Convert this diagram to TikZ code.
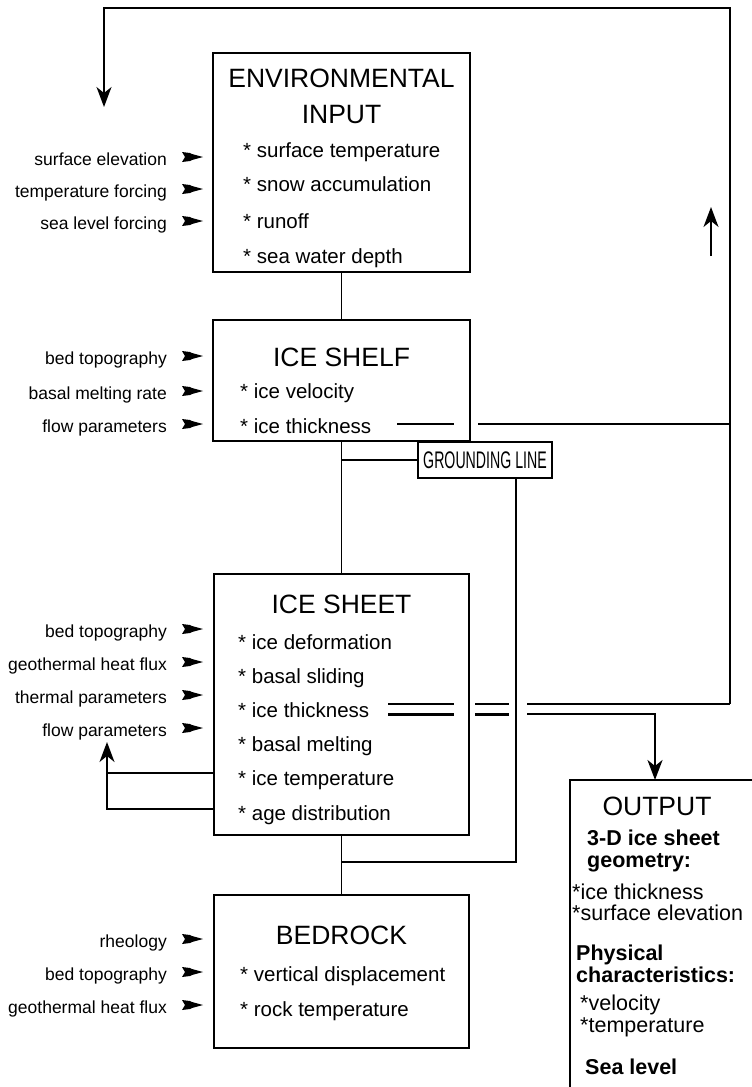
\documentclass[tikz,border=0pt]{standalone}
\usepackage{fontspec}
\setmainfont{Liberation Sans}
\newfontfamily\narrowfont{Liberation Sans}[FakeStretch=0.59]
\usetikzlibrary{arrows.meta}
\tikzstyle{box}=[draw,line width=1.8pt,inner sep=0,outer sep=0]
\tikzstyle{heading}=[font=\fontsize{26.5}{30}\selectfont,inner sep=0,anchor=base]
\tikzstyle{entry}=[font=\fontsize{20.5}{24}\selectfont,inner sep=0,anchor=base west]
\tikzstyle{inlabel}=[font=\fontsize{17.5}{20}\selectfont,inner sep=0,anchor=base east]
\tikzstyle{outbold}=[font=\bfseries\fontsize{21.5}{24}\selectfont,inner sep=0,anchor=base west]
\tikzstyle{outentry}=[font=\fontsize{21.5}{24}\selectfont,inner sep=0,anchor=base west]
\tikzstyle{conn}=[line width=1.6pt]
\tikzstyle{thickconn}=[line width=3pt]
\tikzstyle{arrow}=[line width=1.6pt,-{Stealth[length=20pt,width=15pt,inset=6pt]}]
\tikzstyle{bigarrow}=[line width=2.6pt,-{Stealth[length=20pt,width=15pt,inset=6pt]}]

\begin{document}
\begin{tikzpicture}[x=1pt,y=-1pt]
\useasboundingbox (0,0) rectangle (752,1087);
\clip (0,0) rectangle (752,1087);

\node[box,minimum width=257pt,minimum height=219pt] (env) at (341.5,162.5) {};
\node[box,minimum width=257pt,minimum height=121pt] (shelf) at (341.5,380.5) {};
\node[box,minimum width=134pt,minimum height=36pt] (gline) at (485,460) {\narrowfont\fontsize{24}{24}\selectfont GROUNDING LINE};
\node[box,minimum width=255pt,minimum height=261pt] (sheet) at (341.5,704.5) {};
\node[box,minimum width=255pt,minimum height=153pt] (bed) at (341.5,971.5) {};
\node[box,minimum width=220pt,minimum height=340pt,anchor=north west] (out) at (570,780) {};

\node[heading] (envT) at (341.5,87) {ENVIRONMENTAL};
\node[heading] (envT2) at (341.5,123) {INPUT};
\foreach \t/\yy [count=\i] in {surface temperature/157,snow accumulation/191,runoff/228,sea water depth/263}
  \node[entry] (envI\i) at (243,\yy) {* \t};

\node[heading] (shelfT) at (341.5,366) {ICE SHELF};
\foreach \t/\yy [count=\i] in {ice velocity/398,ice thickness/433}
  \node[entry] (shelfI\i) at (240,\yy) {* \t};

\node[heading] (sheetT) at (341.5,613) {ICE SHEET};
\foreach \t/\yy [count=\i] in {ice deformation/649,basal sliding/683,ice thickness/717,basal melting/751,ice temperature/785,age distribution/820}
  \node[entry] (sheetI\i) at (238,\yy) {* \t};

\node[heading] (bedT) at (341.5,944) {BEDROCK};
\foreach \t/\yy [count=\i] in {vertical displacement/981,rock temperature/1016}
  \node[entry] (bedI\i) at (240,\yy) {* \t};

\node[heading] (outT) at (657,815) {OUTPUT};
\node[outbold] (outB1) at (587,845) {3-D ice sheet};
\node[outbold] (outB2) at (587,867) {geometry:};
\node[outentry] (outI1) at (572,899) {*ice thickness};
\node[outentry] (outI2) at (572,920) {*surface elevation};
\node[outbold] (outB3) at (576,960) {Physical};
\node[outbold] (outB4) at (576,982) {characteristics:};
\node[outentry] (outI3) at (580,1010) {*velocity};
\node[outentry] (outI4) at (580,1032) {*temperature};
\node[outbold] (outB5) at (585,1074) {Sea level};

\foreach \t/\yy [count=\i] in {surface elevation/165,temperature forcing/197,sea level forcing/229,bed topography/364,basal melting rate/399,flow parameters/432,bed topography/637,geothermal heat flux/670,thermal parameters/703,flow parameters/736,rheology/947,bed topography/980,geothermal heat flux/1013}{
  \node[inlabel] (lab\i) at (167,\yy) {\t};
  \fill[shift={(lab\i.base east)}] (15,-13) -- (23,-12) -- (25,-11) -- (36,-8) -- (25,-5) -- (23,-4) -- (15,-3) -- (18,-8) -- cycle;
}

\draw[conn] (env) -- (shelf);
\draw[conn] (shelf) -- (sheet);
\draw[conn] (sheet) -- (bed);
\coordinate (gj) at (shelf.south |- gline.west);
\draw[conn] (gj) -- (gline.west);
\coordinate (bj) at (341.5,862);
\coordinate (gb) at (516,862);
\draw[conn] (bj) -- (gb) -- (gb |- gline.south);

\coordinate (st1) at (397,424);
\coordinate (st2) at (454,424);
\coordinate (st3) at (478,424);
\coordinate (rj) at (730,424);
\draw[conn] (st1) -- (st2);
\draw[conn] (st3) -- (rj);

\coordinate (rb) at (730,704);
\coordinate (tr) at (730,8);
\coordinate (tl) at (104,8);
\coordinate (fb) at (104,107);
\draw[arrow] (rb) -- (tr) -- (tl) -- (fb);

\coordinate (ua1) at (711,256);
\coordinate (ua2) at (711,207);
\draw[arrow] (ua1) -- (ua2);

\foreach \a/\b in {388/454,475/509}{
  \draw[conn] (\a,704) -- (\b,704);
  \draw[thickconn] (\a,714) -- (\b,714);
}
\draw[conn] (527,704) -- (rb);
\coordinate (oa) at (655,714);
\draw[bigarrow] (527,714) -- (oa) -- (oa |- out.north);

\coordinate (la) at (sheet.west |- 0,773);
\coordinate (lb) at (sheet.west |- 0,809);
\coordinate (ld) at (107,773);
\coordinate (lc) at (107,809);
\coordinate (le) at (107,742);
\draw[conn] (la) -- (ld);
\draw[arrow] (lb) -- (lc) -- (le);
\end{tikzpicture}
\end{document}
